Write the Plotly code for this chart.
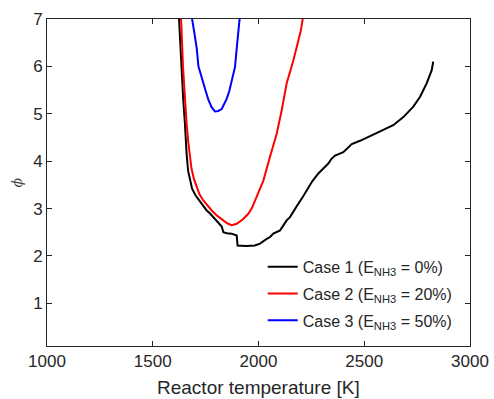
import plotly.graph_objects as go

# Case 1 (E_NH3 = 0%)
t_case1 = [1622, 1624, 1634, 1644, 1652, 1656, 1660, 1667, 1676, 1686, 1702, 1723, 1740, 1755,
           1770, 1786, 1805, 1818, 1826, 1834, 1850, 1873, 1897, 1901, 1940, 1983, 2007, 2039,
           2055, 2070, 2102, 2120, 2133, 2149, 2170, 2188, 2210, 2228, 2255, 2283, 2310, 2330,
           2345, 2362, 2401, 2441, 2480, 2519, 2555, 2590, 2637, 2685, 2732, 2764, 2795, 2819,
           2826]
phi_case1 = [7.2, 7.0, 6.0, 5.3, 4.8, 4.4, 4.16, 3.8, 3.6, 3.42, 3.28, 3.15, 3.05, 2.96,
             2.90, 2.82, 2.74, 2.68, 2.62, 2.50, 2.48, 2.47, 2.43, 2.22, 2.21, 2.22, 2.26, 2.36,
             2.40, 2.47, 2.54, 2.66, 2.75, 2.82, 2.98, 3.10, 3.25, 3.38, 3.58, 3.74, 3.86, 3.95,
             4.05, 4.12, 4.19, 4.36, 4.43, 4.51, 4.58, 4.65, 4.76, 4.93, 5.15, 5.36, 5.64, 5.92,
             6.10]

# Case 2 (E_NH3 = 20%)
t_case2 = [1630, 1634, 1643, 1652, 1660, 1668, 1676, 1683, 1695, 1708, 1721, 1739, 1761, 1779,
           1804, 1834, 1852, 1873, 1897, 1925, 1952, 1970, 1983, 2003, 2023, 2054, 2086, 2110,
           2133, 2165, 2190, 2200, 2209, 2212]
phi_case2 = [7.2, 7.0, 6.0, 5.3, 4.80, 4.4, 4.12, 3.85, 3.62, 3.45, 3.30, 3.17, 3.05, 2.96,
             2.85, 2.75, 2.69, 2.65, 2.68, 2.77, 2.89, 3.02, 3.17, 3.38, 3.59, 4.09, 4.58, 5.08,
             5.64, 6.13, 6.55, 6.75, 7.0, 7.2]

# Case 3 (E_NH3 = 50%)
t_case3 = [1684, 1686, 1697, 1708, 1716, 1728, 1739, 1751, 1763, 1778, 1794, 1810, 1826, 1838,
           1850, 1862, 1873, 1882, 1889, 1897, 1905, 1913, 1915]
phi_case3 = [7.2, 7.0, 6.7, 6.38, 6.0, 5.8, 5.63, 5.47, 5.30, 5.14, 5.05, 5.06, 5.10, 5.20,
             5.32, 5.48, 5.67, 5.83, 5.99, 6.38, 6.7, 7.0, 7.2]

names = ["Case 1 (E<sub>NH3</sub> = 0%)", "Case 2 (E<sub>NH3</sub> = 20%)",
         "Case 3 (E<sub>NH3</sub> = 50%)"]
colors = ["#000000", "#ff0000", "#0000ff"]

x_ticks = [1000, 1500, 2000, 2500, 3000]
y_ticks = [1, 2, 3, 4, 5, 6, 7]

TXT = "#262626"
FONT = "Liberation Sans, Arial, sans-serif"

fig = go.Figure()
for i, (t, p, n, c) in enumerate(zip([t_case1, t_case2, t_case3],
                                     [phi_case1, phi_case2, phi_case3], names, colors)):
    fig.add_trace(go.Scatter(x=t, y=p, mode="lines", name=n, legendgroup=f"g{i}",
                             line=dict(color=c, width=2)))

axis_common = dict(showline=True, linecolor=TXT, linewidth=1, mirror="ticks",
                   ticks="inside", ticklen=5, tickcolor=TXT, showgrid=False,
                   zeroline=False, automargin=False,
                   tickfont=dict(family=FONT, size=17, color=TXT))

fig.update_xaxes(range=[1000, 3000], tickvals=x_ticks, **axis_common)
fig.update_yaxes(range=[0.1, 7], tickvals=y_ticks, **axis_common)

fig.update_layout(
    template="none",
    width=494, height=399,
    margin=dict(l=47, r=24, t=19, b=53, autoexpand=False),
    paper_bgcolor="white", plot_bgcolor="white",
    font=dict(family=FONT, color=TXT),
    showlegend=True,
    legend=dict(x=0.51, y=0.025, xanchor="left", yanchor="bottom",
                bgcolor="rgba(255,255,255,0)", borderwidth=0,
                font=dict(family=FONT, size=16, color=TXT),
                itemwidth=30, tracegroupgap=3),
    annotations=[
        dict(text="Reactor temperature [K]", xref="paper", yref="paper", x=0.5, y=-0.128,
             xanchor="center", yanchor="middle", showarrow=False,
             font=dict(family=FONT, size=19, color=TXT)),
        dict(text="<i>ϕ</i>", xref="paper", yref="paper", x=-0.073, y=0.5,
             xanchor="center", yanchor="middle", showarrow=False, textangle=-90,
             font=dict(family="DejaVu Serif, serif", size=14, color="#444444")),
    ],
)

fig.write_html("out.html")
